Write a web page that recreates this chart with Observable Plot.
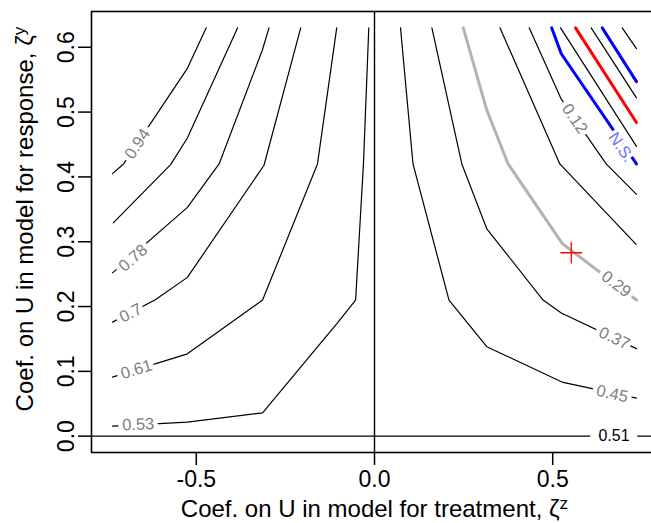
<!DOCTYPE html>
<html><head><meta charset="utf-8">
<script src="https://cdn.jsdelivr.net/npm/d3@7"></script>
<script src="https://cdn.jsdelivr.net/npm/@observablehq/plot@0.6"></script>
<style>html,body{margin:0;padding:0;background:#fff;overflow:hidden} svg{display:block}</style>
</head><body><div id="chart"></div><script>
// ---- data ----
const xTicks = [-0.5, 0, 0.5];
const yTicks = [0, 0.1, 0.2, 0.3, 0.4, 0.5, 0.6];
const xTitle = "Coef. on U in model for treatment, ζ";
const xTitleSup = "z";
const yTitle = "Coef. on U in model for response, ζ";
const yTitleSup = "y";

const lineLevels = ["0.94","0.86","0.78","0.7","0.61","0.53","0.45","0.37","0.29","0.21","0.12","N.S.","0.04","0","-0.04","N.S.","-0.12"];
const lineTypes  = ["est","est","est","est","est","est","est","est","obs","est","est","ns","est","zero","est","ns","est"];
const lineX = [
  [-0.472,-0.525,-0.704,-0.735],
  [-0.384,-0.525,-0.572,-0.733],
  [-0.296,-0.315,-0.436,-0.525,-0.735],
  [-0.207,-0.310,-0.525,-0.616,-0.735],
  [-0.106,-0.160,-0.314,-0.525,-0.735],
  [-0.016,-0.031,-0.053,-0.105,-0.314,-0.525,-0.735],
  [0.073,0.108,0.209,0.315,0.526,0.735],
  [0.161,0.245,0.315,0.473,0.524,0.735],
  [0.249,0.315,0.375,0.527,0.735],
  [0.352,0.520,0.734],
  [0.434,0.524,0.650,0.735],
  [0.497,0.524,0.735],
  [0.522,0.735],
  [0.564,0.735],
  [0.608,0.735],
  [0.639,0.735],
  [0.695,0.735]
];
const lineY = [
  [0.63,0.5675,0.42,0.405],
  [0.63,0.46,0.419,0.329],
  [0.63,0.595,0.42,0.353,0.252],
  [0.63,0.418,0.245,0.21,0.176],
  [0.63,0.42,0.21,0.127,0.091],
  [0.63,0.42,0.21,0.174,0.036,0.0216,0.0156],
  [0.63,0.42,0.21,0.138,0.0835,0.0588],
  [0.63,0.42,0.32,0.21,0.19,0.135],
  [0.63,0.503,0.42,0.297,0.21],
  [0.63,0.42,0.296],
  [0.63,0.52,0.42,0.373],
  [0.63,0.59,0.42],
  [0.63,0.447],
  [0.63,0.484],
  [0.63,0.522],
  [0.63,0.547],
  [0.63,0.598]
];
const hLineY = [0];   // horizontal reference contour
const vLineX = [0];   // vertical reference line

const labelText  = ["0.94","0.78","0.7","0.61","0.53","0.45","0.37","0.29","0.12","N.S.","0.51"];
const labelTypes = ["est","est","est","est","est","est","est","est","est","ns","ref"];
const labelLine  = [0,2,3,4,5,6,7,8,10,11,-1];
const labelX = [-0.665,-0.677,-0.684,-0.668,-0.663,0.667,0.673,0.678,0.5615,0.692,0.672];
const labelY = [0.451,0.275,0.190,0.103,0.018,0.0654,0.151,0.2346,0.4897,0.4458,0];

const crossX = [0.552];
const crossY = [0.283];

// ---- layout ----
const W = 651, H = 523;
const M = {top: 11, right: -6, bottom: 71, left: 91};
const xDomain = [-0.794, 0.794];
const yDomain = [-0.0252, 0.6552];
const kx = (W - M.left - M.right) / (xDomain[1] - xDomain[0]);
const ky = (H - M.top - M.bottom) / (yDomain[1] - yDomain[0]);
const FONT = "'Liberation Sans', Arial, Helvetica, sans-serif";

const pts = [];
lineX.forEach((xs, i) => xs.forEach((x, j) => pts.push({id: i, type: lineTypes[i], x, y: lineY[i][j]})));

function angleFor(k) {
  const li = labelLine[k];
  if (li < 0) return 0;
  const px = labelX[k] * kx, py = -labelY[k] * ky;
  const xs = lineX[li], ys = lineY[li];
  let best = Infinity, ang = 0;
  for (let j = 0; j < xs.length - 1; j++) {
    const ax = xs[j] * kx, ay = -ys[j] * ky, bx = xs[j+1] * kx, by = -ys[j+1] * ky;
    const dx = bx - ax, dy = by - ay, L2 = dx*dx + dy*dy;
    let t = ((px - ax) * dx + (py - ay) * dy) / L2;
    t = Math.max(0, Math.min(1, t));
    const d = Math.hypot(ax + t*dx - px, ay + t*dy - py);
    if (d < best) {
      best = d;
      let a = Math.atan2(dy, dx) * 180 / Math.PI;
      if (a > 90) a -= 180;
      if (a <= -90) a += 180;
      ang = a;
    }
  }
  return ang;
}
const labels = labelText.map((t, k) => ({text: t, x: labelX[k], y: labelY[k], type: labelTypes[k], angle: angleFor(k)}));
const cross = crossX.map((x, i) => ({x, y: crossY[i]}));

const lineStyle = {
  est:  {stroke: "#000000", strokeWidth: 1.2},
  obs:  {stroke: "#b3b3b3", strokeWidth: 3},
  ns:   {stroke: "#0000ff", strokeWidth: 3},
  zero: {stroke: "#ff0000", strokeWidth: 3}
};
const labelFill = {est: "#808080", ns: "#7070ff", ref: "#000000"};

const marks = [];
for (const t of ["est", "obs", "ns", "zero"]) {
  marks.push(Plot.line(pts.filter(d => d.type === t), {x: "x", y: "y", z: "id", ...lineStyle[t], strokeLinejoin: "round"}));
}
marks.push(Plot.ruleY(hLineY, {stroke: "#000", strokeWidth: 1.4}));
marks.push(Plot.ruleX(vLineX, {stroke: "#000", strokeWidth: 1.4}));
for (const t of ["est", "ns", "ref"]) {
  marks.push(Plot.text(labels.filter(d => d.type === t), {
    x: "x", y: "y", text: "text", rotate: "angle",
    fill: labelFill[t], stroke: "white", strokeWidth: t === "ref" ? 18 : (t === "ns" ? 7 : 9),
    paintOrder: "stroke", strokeLinejoin: "round",
    fontSize: t === "ref" ? 16 : 16.5, textAnchor: "middle", lineAnchor: "middle"
  }));
}
marks.push(Plot.dot(cross, {x: "x", y: "y", symbol: "plus", r: 7, stroke: "#ff0000", strokeWidth: 1.3}));
marks.push(Plot.frame({stroke: "#000", strokeWidth: 1.6}));
marks.push(Plot.axisX({ticks: xTicks, tickFormat: d => d.toFixed(1), tickSize: 13, tickPadding: 5, fontSize: 23, strokeWidth: 1.5, label: null}));
marks.push(Plot.axisY({ticks: yTicks, tickFormat: d => d.toFixed(1), tickSize: 13, tickPadding: 5, tickRotate: -90, fontSize: 23, strokeWidth: 1.5, label: null}));
marks.push(Plot.text([xTitle], {frameAnchor: "bottom", dy: 57, fontSize: 24, lineAnchor: "middle", textAnchor: "middle"}));
marks.push(Plot.text([yTitle], {frameAnchor: "left", dx: -66, dy: -13, rotate: -90, fontSize: 24, lineAnchor: "middle", textAnchor: "middle"}));

const svg = Plot.plot({
  width: W, height: H,
  marginTop: M.top, marginRight: M.right, marginBottom: M.bottom, marginLeft: M.left,
  x: {domain: xDomain},
  y: {domain: yDomain},
  style: {fontFamily: FONT, background: "white", color: "black", overflow: "visible"},
  marks
});

function addSup(main, sup) {
  for (const t of svg.querySelectorAll("text")) {
    if (t.textContent === main) {
      const ts = document.createElementNS("http://www.w3.org/2000/svg", "tspan");
      ts.setAttribute("dy", "-0.45em");
      ts.setAttribute("font-size", "0.72em");
      ts.textContent = sup;
      t.appendChild(ts);
    }
  }
}
addSup(xTitle, xTitleSup);
addSup(yTitle, yTitleSup);

document.getElementById("chart").appendChild(svg);
</script></body></html>
